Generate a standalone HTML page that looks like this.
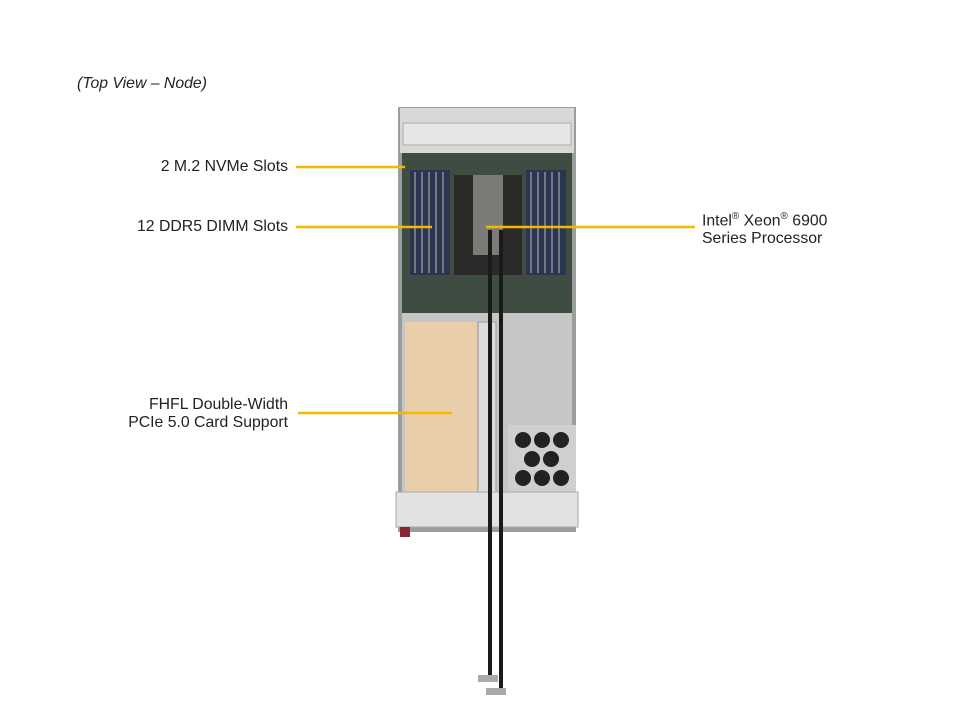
<!DOCTYPE html>
<html><head><style>
body{margin:0;background:#fff;width:960px;height:720px;overflow:hidden;font-family:"Liberation Sans",Arial,sans-serif}
.t{position:absolute;font-size:15.8px;color:#222;line-height:18px}
.r{text-align:right}
</style></head><body>
<div class="t" style="left:77px;top:75px;font-style:italic">(Top View – Node)</div>
<div class="t r" style="left:48px;width:240px;top:158px">2 M.2 NVMe Slots</div>
<div class="t r" style="left:48px;width:240px;top:218px">12 DDR5 DIMM Slots</div>
<div class="t r" style="left:48px;width:240px;top:396px">FHFL Double-Width<br>PCIe 5.0 Card Support</div>
<div class="t" style="left:702px;top:208px">Intel<sup style="font-size:10px">®</sup> Xeon<sup style="font-size:10px">®</sup> 6900<br>Series Processor</div>
<svg width="960" height="720" style="position:absolute;left:0;top:0">
<rect x="398" y="107" width="178" height="425" fill="#9a9d9c"/>
<rect x="400" y="108" width="174" height="45" fill="#d8d8d6"/>
<rect x="403" y="123" width="168" height="22" fill="#e6e6e4" stroke="#aaa"/>
<rect x="402" y="153" width="170" height="160" fill="#3e4c42"/>
<rect x="410" y="170" width="40" height="105" fill="#2a3552"/>
<rect x="526" y="170" width="40" height="105" fill="#2a3552"/>
<g stroke="#8a9090" stroke-width="1.5">
<line x1="415" y1="172" x2="415" y2="273"/><line x1="422" y1="172" x2="422" y2="273"/><line x1="429" y1="172" x2="429" y2="273"/><line x1="436" y1="172" x2="436" y2="273"/><line x1="443" y1="172" x2="443" y2="273"/>
<line x1="531" y1="172" x2="531" y2="273"/><line x1="538" y1="172" x2="538" y2="273"/><line x1="545" y1="172" x2="545" y2="273"/><line x1="552" y1="172" x2="552" y2="273"/><line x1="559" y1="172" x2="559" y2="273"/>
</g>
<rect x="454" y="175" width="68" height="100" fill="#2b2a29"/>
<rect x="473" y="175" width="30" height="80" fill="#7d7b78"/>
<rect x="402" y="313" width="170" height="180" fill="#c5c6c6"/>
<rect x="405" y="322" width="72" height="170" fill="#e9cfa9"/>
<rect x="478" y="322" width="18" height="170" fill="#dcdcdc" stroke="#999"/>
<rect x="508" y="425" width="68" height="68" fill="#cfcfcf"/>
<g fill="#222"><circle cx="523" cy="440" r="8"/><circle cx="542" cy="440" r="8"/><circle cx="561" cy="440" r="8"/><circle cx="532" cy="459" r="8"/><circle cx="551" cy="459" r="8"/><circle cx="523" cy="478" r="8"/><circle cx="542" cy="478" r="8"/><circle cx="561" cy="478" r="8"/></g>
<rect x="396" y="492" width="182" height="35" fill="#e2e2e2" stroke="#aaa"/>
<rect x="400" y="527" width="10" height="10" fill="#8a2530"/>
<path d="M490 230 L490 675 M501 230 L501 688" stroke="#1a1a1a" stroke-width="4" fill="none"/>
<rect x="478" y="675" width="20" height="7" fill="#aaa"/>
<rect x="486" y="688" width="20" height="7" fill="#aaa"/>
<g stroke="#f5b800" stroke-width="2.5">
<line x1="296" y1="167" x2="405" y2="167"/>
<line x1="296" y1="227" x2="432" y2="227"/>
<line x1="486" y1="227" x2="695" y2="227"/>
<line x1="298" y1="413" x2="452" y2="413"/>
</g>
</svg>
</body></html>
